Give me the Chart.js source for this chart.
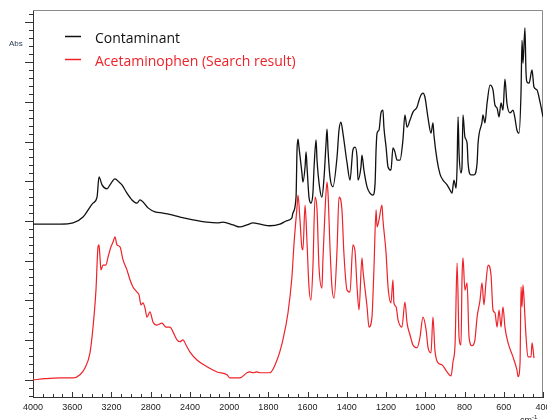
<!DOCTYPE html>
<html>
<head>
<meta charset="utf-8">
<script src="https://cdn.jsdelivr.net/npm/chart.js@4.4.1/dist/chart.umd.min.js"></script>
<style>
  html, body { margin: 0; padding: 0; background: #fff; }
  #wrap { width: 547px; height: 420px; position: relative; }
</style>
</head>
<body>
<div id="wrap"><canvas id="chart"></canvas></div>
<script>
// x axis labels (cm-1); the scale is expanded 2x below 2000
const xTickLabels = [4000, 3600, 3200, 2800, 2400, 2000, 1800, 1600, 1400, 1200, 1000, 800, 600, 400];
const seriesNames = ["Contaminant", "Acetaminophen (Search result)"];
const seriesColors = ["#111111", "#ee2229"];

const contaminantWn = [4000,3878,3725,3592,3490,3388,3347,3327,3296,3245,
  3215,3164,3123,3093,3042,2991,2940,2909,2878,2827,
  2756,2675,2573,2501,2369,2226,2124,2063,1980,1945,
  1909,1878,1843,1792,1741,1705,1680,1675,1659,1654,
  1649,1644,1629,1624,1613,1608,1603,1593,1583,1573,
  1567,1557,1552,1537,1527,1516,1506,1501,1496,1486,
  1471,1450,1440,1430,1420,1399,1384,1369,1358,1348,
  1343,1328,1323,1313,1297,1282,1267,1256,1251,1246,
  1236,1226,1216,1211,1200,1190,1175,1165,1155,1144,
  1129,1114,1104,1093,1078,1063,1042,1032,1022,1012,
  1002,986,971,961,956,940,925,910,889,874,
  864,854,843,838,833,828,818,813,808,798,
  787,782,767,752,736,731,711,706,696,685,
  670,655,645,634,624,614,604,594,584,568,
  553,543,533,522,512,507,502,492,487,482,
  471,456,446,431,415,400];
const contaminantAbs = [3.92,3.92,3.92,3.95,4.10,4.45,4.60,5.11,4.91,4.81,
  4.91,5.06,4.98,4.91,4.70,4.53,4.45,4.53,4.48,4.33,
  4.23,4.20,4.15,4.10,4.03,3.97,3.95,3.97,3.90,3.85,
  3.90,3.95,3.92,3.88,3.92,4.01,4.08,4.20,4.60,5.79,
  6.06,5.86,5.21,4.98,5.36,5.74,5.36,4.60,4.45,4.70,
  5.36,6.04,5.53,4.78,4.60,5.11,5.96,6.31,5.79,5.11,
  4.86,5.61,6.29,6.49,6.21,5.46,5.03,5.79,5.86,5.61,
  5.03,5.36,5.66,5.28,4.86,4.70,4.65,4.96,5.79,6.21,
  6.29,6.72,6.79,6.36,5.86,5.36,5.28,5.84,5.74,5.53,
  5.53,6.04,6.67,6.36,6.54,6.74,6.87,7.04,7.17,7.22,
  7.12,6.59,6.21,6.47,6.16,5.53,5.18,5.03,4.91,4.78,
  4.70,5.03,4.83,5.36,6.62,5.71,5.21,5.36,6.67,6.11,
  5.96,5.46,5.16,5.16,5.46,5.96,6.49,6.67,6.47,6.97,
  7.42,7.30,6.92,6.84,6.62,6.97,6.79,7.57,6.97,6.72,
  6.79,6.59,6.29,6.21,7.25,8.55,7.97,8.86,7.80,7.50,
  7.47,7.80,7.37,7.30,6.99,6.62];

const acetaminophenWn = [4000,3878,3725,3592,3521,3470,3419,3388,3358,3337,
  3327,3317,3307,3286,3256,3235,3205,3184,3164,3144,
  3113,3082,3042,3011,2981,2940,2919,2899,2878,2858,
  2838,2807,2777,2736,2685,2644,2603,2573,2532,2501,
  2471,2440,2399,2328,2226,2124,2022,1996,1945,1909,
  1894,1878,1858,1843,1792,1756,1726,1700,1680,1669,
  1654,1649,1639,1629,1624,1613,1603,1593,1583,1573,
  1562,1552,1542,1527,1522,1511,1501,1496,1486,1476,
  1465,1450,1440,1425,1415,1399,1384,1369,1358,1348,
  1338,1323,1318,1297,1287,1272,1262,1251,1246,1236,
  1221,1216,1200,1190,1175,1165,1160,1149,1139,1119,
  1104,1093,1078,1063,1042,1027,1012,996,986,971,
  961,951,935,915,889,869,859,848,838,828,
  818,813,808,798,787,777,762,747,736,721,
  711,701,691,680,665,655,645,634,624,614,
  604,594,578,553,533,527,517,512,507,502,
  492,487,477,461,456,446];
const acetaminophenAbs = [0.00,0.03,0.05,0.05,0.13,0.30,0.68,1.33,2.26,3.35,
  3.40,3.09,2.77,2.89,2.89,3.09,3.35,3.47,3.60,3.40,
  3.35,3.02,2.77,2.52,2.34,2.21,2.14,1.89,1.94,1.81,
  1.58,1.71,1.46,1.38,1.43,1.33,1.33,1.21,1.01,0.96,
  1.01,0.88,0.70,0.50,0.33,0.20,0.13,0.05,0.05,0.18,
  0.20,0.18,0.20,0.18,0.18,0.50,1.01,1.69,2.59,3.45,
  4.35,4.65,4.03,3.32,3.27,4.40,3.45,2.34,2.01,2.84,
  4.60,4.28,2.84,2.31,3.02,4.28,4.98,4.70,3.35,2.34,
  2.06,3.27,4.60,4.28,3.19,2.26,2.21,3.40,3.22,2.34,
  1.76,3.07,2.77,1.84,1.33,1.58,2.77,4.28,3.85,4.03,
  4.40,4.03,3.19,2.34,1.94,2.52,1.94,1.84,1.51,1.33,
  1.96,1.43,1.13,0.88,0.81,1.08,1.58,1.26,0.81,0.68,
  1.58,0.75,0.43,0.38,0.20,0.10,0.45,0.93,2.94,1.08,
  0.88,2.52,3.07,2.26,2.44,1.08,0.86,1.01,1.58,2.01,
  2.44,1.89,2.44,2.89,2.64,1.76,1.69,1.33,1.76,1.33,
  1.84,1.33,0.93,0.58,0.25,0.08,0.43,2.34,1.84,2.39,
  1.58,1.13,0.58,0.58,0.93,0.55];

// wavenumber -> position along the x axis (one unit per labelled interval)
function toAxis(wn) {
  for (let i = 0; i < xTickLabels.length - 1; i++) {
    const a = xTickLabels[i], b = xTickLabels[i + 1];
    if (wn <= a && wn >= b) return i + (a - wn) / (a - b);
  }
  return wn > xTickLabels[0] ? 0 : xTickLabels.length - 1;
}
function points(wn, abs) {
  return wn.map((w, i) => ({ x: toAxis(w), y: abs[i] }));
}

// frame, tick marks, legend and axis captions
const spectrumDecor = {
  id: "spectrumDecor",
  beforeDatasetsDraw(chart) {
    const { ctx, chartArea: a } = chart;
    ctx.save();
    ctx.strokeStyle = "#8a8a8a";
    ctx.lineWidth = 1;
    ctx.beginPath();
    ctx.moveTo(a.left, a.top + 0.5);
    ctx.lineTo(a.right - 0.5, a.top + 0.5);
    ctx.lineTo(a.right - 0.5, a.bottom);
    ctx.stroke();
    ctx.restore();
  },
  afterDraw(chart) {
    const { ctx, chartArea: a, scales: { x, y } } = chart;
    ctx.save();
    ctx.strokeStyle = "#333";
    ctx.lineWidth = 1;
    ctx.beginPath();
    // y ticks point outward, minor every 0.2
    for (let k = Math.ceil(y.min * 5); k <= Math.floor(y.max * 5); k++) {
      const py = Math.round(y.getPixelForValue(k / 5)) + 0.5;
      const len = k % 5 === 0 ? 8 : 4;
      ctx.moveTo(a.left - len, py);
      ctx.lineTo(a.left, py);
    }
    // x ticks point inward, minor every quarter interval
    for (let k = 0; k <= (xTickLabels.length - 1) * 4; k++) {
      const px = Math.round(x.getPixelForValue(k / 4)) + 0.5;
      const len = k % 4 === 0 ? 5 : 3;
      ctx.moveTo(px, a.bottom);
      ctx.lineTo(px, a.bottom - len);
    }
    ctx.stroke();

    ctx.fillStyle = "#2b3b55";
    ctx.font = "8px 'Liberation Sans'";
    ctx.textBaseline = "alphabetic";
    ctx.fillText("Abs", 9, 46);

    ctx.fillStyle = "#222";
    ctx.font = "9px 'Liberation Sans'";
    ctx.fillText("cm", 520, 423);
    ctx.font = "6px 'Liberation Sans'";
    ctx.fillText("-1", 532, 419);

    // legend
    ctx.font = "14px 'Open Sans'";
    chart.data.datasets.forEach((ds, i) => {
      const ly = 36 + i * 23;
      ctx.strokeStyle = ds.borderColor;
      ctx.lineWidth = 1.5;
      ctx.beginPath();
      ctx.moveTo(65, ly + 0.5);
      ctx.lineTo(81, ly + 0.5);
      ctx.stroke();
      ctx.fillStyle = ds.borderColor;
      ctx.fillText(ds.label, 95, ly + 6.5);
    });
    ctx.restore();
  }
};

const ctx = document.getElementById("chart").getContext("2d");
new Chart(ctx, {
  type: "line",
  data: {
    datasets: [
      {
        label: seriesNames[0],
        data: points(contaminantWn, contaminantAbs),
        borderColor: seriesColors[0],
        borderWidth: 1.3,
        pointRadius: 0,
        fill: false,
        cubicInterpolationMode: "monotone",
      },
      {
        label: seriesNames[1],
        data: points(acetaminophenWn, acetaminophenAbs),
        borderColor: seriesColors[1],
        borderWidth: 1.2,
        pointRadius: 0,
        fill: false,
        cubicInterpolationMode: "monotone",
      },
    ],
  },
  options: {
    responsive: true,
    maintainAspectRatio: false,
    animation: false,
    layout: { padding: { top: 10, right: 4, left: 0, bottom: 0 } },
    plugins: {
      legend: { display: false },
      tooltip: { enabled: false },
      title: { display: false },
    },
    scales: {
      x: {
        type: "linear",
        min: 0,
        max: xTickLabels.length - 1,
        grid: { display: false, drawTicks: false },
        border: { display: true, color: "#333", width: 1 },
        ticks: {
          stepSize: 1,
          autoSkip: false,
          maxRotation: 0,
          padding: 5,
          color: "#222",
          font: { family: "'Liberation Sans'", size: 9 },
          callback: (v) => (Number.isInteger(v) ? String(xTickLabels[v]) : ""),
        },
        afterFit: (s) => {
          s.height = 23;
          s.paddingLeft = 0;
          s.paddingRight = 0;
        },
      },
      y: {
        type: "linear",
        min: -0.43,
        max: 9.31,
        grid: { display: false, drawTicks: false },
        border: { display: true, color: "#333", width: 1 },
        ticks: { display: false },
        afterFit: (s) => {
          s.width = 33;
        },
      },
    },
  },
  plugins: [spectrumDecor],
});
</script>
</body>
</html>
